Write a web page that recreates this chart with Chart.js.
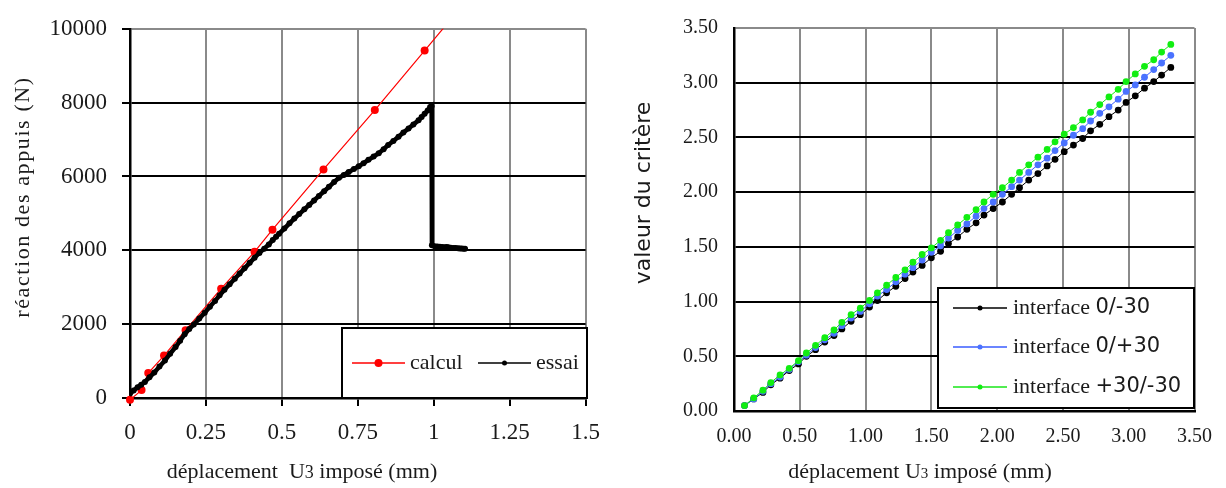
<!DOCTYPE html>
<html>
<head>
<meta charset="utf-8">
<script src="https://cdn.jsdelivr.net/npm/chart.js@4"></script>
<style>
  body { margin: 0; background: #fff; }
  #wrap { position: relative; width: 1226px; height: 488px; }
  canvas { position: absolute; top: 0; }
</style>
</head>
<body>
<div id="wrap">
  <canvas id="chartLeft" width="613" height="488" style="left:0"></canvas>
  <canvas id="chartRight" width="613" height="488" style="left:613px"></canvas>
</div>
<script>
// left chart: reaction des appuis
const leftXTicks = [0, 0.25, 0.5, 0.75, 1, 1.25, 1.5];
const leftYTicks = [0, 2000, 4000, 6000, 8000, 10000];

const calculX = [0, 0.038, 0.06, 0.112, 0.183, 0.30, 0.41, 0.469, 0.637, 0.806, 0.97, 1.14];
const calculY = [-50, 214, 677, 1150, 1836, 2960, 3960, 4560, 6190, 7800, 9410, 11080];

const essaiX = [0, 0.012, 0.025, 0.037, 0.049, 0.064, 0.08, 0.097, 0.115, 0.132, 0.15, 0.165, 0.18, 0.195,
  0.21, 0.228, 0.246, 0.263, 0.28, 0.295, 0.311, 0.328, 0.345, 0.361, 0.377, 0.394, 0.41, 0.426, 0.442,
  0.457, 0.47, 0.481, 0.491, 0.508, 0.525, 0.541, 0.557, 0.574, 0.59, 0.606, 0.622, 0.639, 0.655, 0.672,
  0.688, 0.704, 0.72, 0.737, 0.753, 0.769, 0.785, 0.802, 0.819, 0.835, 0.85, 0.867, 0.884, 0.9, 0.917,
  0.933, 0.95, 0.96, 0.97, 0.98, 0.988, 0.993, 0.994, 1.003, 1.012, 1.02, 1.028, 1.035, 1.042, 1.048,
  1.056, 1.065, 1.072, 1.08, 1.086, 1.092, 1.098, 1.103];
const essaiY = [120, 200, 290, 360, 436, 560, 690, 850, 1016, 1200, 1380, 1550, 1730, 1870,
  1990, 2150, 2308, 2470, 2630, 2780, 2933, 3080, 3230, 3370, 3511, 3660, 3800, 3930, 4045,
  4160, 4280, 4370, 4450, 4590, 4730, 4860, 4981, 5110, 5230, 5350, 5472, 5600, 5720, 5850,
  5963, 6040, 6120, 6200, 6275, 6360, 6450, 6540, 6631, 6740, 6850, 6960, 7077, 7190, 7300,
  7410, 7522, 7610, 7700, 7790, 7880, 7910, 4140, 4110, 4105, 4100, 4090, 4085, 4090, 4080,
  4070, 4065, 4060, 4055, 4050, 4050, 4045, 4045];

// right chart: valeur du critere
const rightXTicks = [0, 0.5, 1, 1.5, 2, 2.5, 3, 3.5];
const rightYTicks = [0, 0.5, 1, 1.5, 2, 2.5, 3, 3.5];

const uImpose = [0.08, 0.15, 0.22, 0.28, 0.35, 0.42, 0.49, 0.55, 0.62, 0.69, 0.76, 0.82, 0.89, 0.96,
  1.03, 1.09, 1.16, 1.23, 1.30, 1.36, 1.43, 1.50, 1.57, 1.63, 1.70, 1.77, 1.84, 1.90, 1.97, 2.04,
  2.11, 2.17, 2.24, 2.31, 2.38, 2.44, 2.51, 2.58, 2.65, 2.71, 2.78, 2.85, 2.92, 2.98, 3.05, 3.12,
  3.19, 3.25, 3.32];
const interface0m30 = [0.05, 0.11, 0.17, 0.24, 0.30, 0.37, 0.43, 0.50, 0.56, 0.63, 0.69, 0.75, 0.82, 0.88,
  0.95, 1.01, 1.08, 1.14, 1.21, 1.27, 1.33, 1.40, 1.46, 1.53, 1.59, 1.66, 1.72, 1.79, 1.85, 1.91,
  1.98, 2.04, 2.11, 2.17, 2.24, 2.30, 2.37, 2.43, 2.49, 2.56, 2.62, 2.69, 2.75, 2.82, 2.88, 2.95,
  3.01, 3.07, 3.14];
const interface0p30 = [0.05, 0.11, 0.18, 0.25, 0.31, 0.38, 0.45, 0.51, 0.58, 0.65, 0.71, 0.78, 0.85, 0.91,
  0.98, 1.05, 1.11, 1.18, 1.25, 1.31, 1.38, 1.45, 1.51, 1.58, 1.65, 1.71, 1.78, 1.85, 1.91, 1.98,
  2.05, 2.11, 2.18, 2.25, 2.31, 2.38, 2.45, 2.52, 2.58, 2.65, 2.72, 2.78, 2.85, 2.92, 2.98, 3.05,
  3.12, 3.18, 3.25];
const interfaceP30m30 = [0.05, 0.12, 0.19, 0.26, 0.33, 0.39, 0.46, 0.53, 0.60, 0.67, 0.74, 0.81, 0.88, 0.94,
  1.01, 1.08, 1.15, 1.22, 1.29, 1.36, 1.43, 1.49, 1.56, 1.63, 1.70, 1.77, 1.84, 1.91, 1.98, 2.04,
  2.11, 2.18, 2.25, 2.32, 2.39, 2.46, 2.53, 2.59, 2.66, 2.73, 2.80, 2.87, 2.94, 3.01, 3.08, 3.15,
  3.21, 3.28, 3.35];

const SERIF = "'Liberation Serif', 'Times New Roman', serif";
const SANS = "'DejaVu Sans', 'Liberation Sans', sans-serif";
const TEXT = '#1a1a1a';
const GRAY = '#8a8a8a';

function toPts(xs, ys) {
  return xs.map((x, i) => ({ x: x, y: ys[i] }));
}

// draws axis titles (with small "3") and the boxed legend
const frameText = {
  id: 'frameText',
  afterDraw(chart, args, opts) {
    const ctx = chart.ctx;
    ctx.save();
    ctx.fillStyle = TEXT;

    function drawParts(parts, cx, cy) {
      let total = 0;
      parts.forEach(p => { ctx.font = p.font; total += ctx.measureText(p.text).width; });
      let x = cx - total / 2;
      parts.forEach(p => {
        ctx.font = p.font;
        ctx.fillText(p.text, x, cy);
        x += ctx.measureText(p.text).width;
      });
    }

    ctx.textAlign = 'left';
    ctx.textBaseline = 'alphabetic';
    drawParts(opts.xTitle.parts, opts.xTitle.x, opts.xTitle.y);

    ctx.save();
    ctx.translate(opts.yTitle.x, opts.yTitle.y);
    ctx.rotate(-Math.PI / 2);
    ctx.textBaseline = 'middle';
    if (opts.yTitle.spacing) ctx.letterSpacing = opts.yTitle.spacing;
    drawParts(opts.yTitle.parts, 0, 0);
    ctx.restore();

    // legend box
    const lg = opts.legend;
    ctx.fillStyle = '#fff';
    ctx.fillRect(lg.x, lg.y, lg.w, lg.h);
    ctx.strokeStyle = '#000';
    ctx.lineWidth = 2;
    ctx.strokeRect(lg.x, lg.y, lg.w, lg.h);

    chart.data.datasets.forEach((ds, i) => {
      const it = lg.items[i];
      ctx.strokeStyle = ds.borderColor;
      ctx.lineWidth = 1.5;
      ctx.beginPath();
      ctx.moveTo(it.x, it.y);
      ctx.lineTo(it.x + lg.lineLen, it.y);
      ctx.stroke();
      ctx.fillStyle = ds.backgroundColor;
      ctx.beginPath();
      ctx.arc(it.x + lg.lineLen / 2, it.y, lg.dots[i], 0, Math.PI * 2);
      ctx.fill();
      ctx.fillStyle = TEXT;
      ctx.textBaseline = 'middle';
      const words = ds.label.split(' ');
      let tx = it.x + lg.lineLen + lg.gap;
      words.forEach((w, k) => {
        ctx.font = (k === 0 ? lg.font : (lg.font2 || lg.font));
        const t = (k < words.length - 1) ? w + ' ' : w;
        ctx.fillText(t, tx, it.y);
        tx += ctx.measureText(t).width;
      });
    });
    ctx.restore();
  }
};

function fixedTicks(list) {
  return scale => { scale.ticks = list.map(v => ({ value: v })); };
}

// Left chart
new Chart(document.getElementById('chartLeft'), {
  type: 'scatter',
  plugins: [frameText],
  data: {
    datasets: [
      {
        label: 'calcul',
        data: toPts(calculX, calculY),
        showLine: true,
        borderColor: '#ff0000',
        backgroundColor: '#ff0000',
        borderWidth: 1.2,
        pointRadius: 4,
        pointBorderWidth: 0,
        order: 1,
        clip: { left: 6, top: 0, right: 0, bottom: 6 }
      },
      {
        label: 'essai',
        data: toPts(essaiX, essaiY),
        showLine: true,
        borderColor: '#000',
        backgroundColor: '#000',
        borderWidth: 4.5,
        pointRadius: 3,
        pointBorderWidth: 0,
        order: 0
      }
    ]
  },
  options: {
    responsive: false,
    animation: false,
    layout: { padding: { top: 24, right: 25, bottom: 0, left: 0 } },
    plugins: {
      legend: { display: false },
      tooltip: { enabled: false },
      frameText: {
        xTitle: {
          x: 302, y: 478,
          parts: [
            { text: 'déplacement  U', font: '22px ' + SERIF },
            { text: '3', font: '18px ' + SERIF },
            { text: ' imposé (mm)', font: '22px ' + SERIF }
          ]
        },
        yTitle: {
          x: 23, y: 197, spacing: '1.6px',
          parts: [{ text: 'réaction des appuis (N)', font: '22px ' + SERIF }]
        },
        legend: {
          x: 342, y: 328, w: 245, h: 70, lineLen: 53, gap: 5,
          font: '22px ' + SERIF,
          dots: [4, 2.5],
          items: [{ x: 352, y: 363 }, { x: 478, y: 363 }]
        }
      }
    },
    scales: {
      x: {
        type: 'linear',
        min: 0,
        max: 1.5,
        afterBuildTicks: fixedTicks(leftXTicks),
        afterFit: s => { s.height = 90; },
        ticks: {
          callback: v => String(v),
          color: TEXT,
          font: { family: SERIF, size: 23 },
          padding: 13
        },
        grid: { color: GRAY, lineWidth: 2, tickLength: 8, tickColor: '#000', tickWidth: 2 },
        border: { color: '#000', width: 2.5 }
      },
      y: {
        type: 'linear',
        min: 0,
        max: 10000,
        afterBuildTicks: fixedTicks(leftYTicks),
        afterFit: s => { s.width = 130; },
        ticks: {
          callback: v => String(v),
          color: TEXT,
          font: { family: SERIF, size: 23 },
          padding: 15
        },
        grid: {
          color: c => (c.tick && c.tick.value === 10000) ? GRAY : '#000',
          lineWidth: 2,
          tickLength: 8,
          tickColor: '#000',
          tickWidth: 2
        },
        border: { color: '#000', width: 2.5 }
      }
    }
  }
});

// Right chart
new Chart(document.getElementById('chartRight'), {
  type: 'scatter',
  plugins: [frameText],
  data: {
    datasets: [
      {
        label: 'interface 0/-30',
        data: toPts(uImpose, interface0m30),
        showLine: true,
        borderColor: '#000',
        backgroundColor: '#000',
        borderWidth: 1,
        pointRadius: 3.4,
        pointBorderWidth: 0,
        order: 2
      },
      {
        label: 'interface 0/+30',
        data: toPts(uImpose, interface0p30),
        showLine: true,
        borderColor: '#3a5cff',
        backgroundColor: '#4a72ff',
        borderWidth: 1,
        pointRadius: 3.4,
        pointBorderWidth: 0,
        order: 1
      },
      {
        label: 'interface +30/-30',
        data: toPts(uImpose, interfaceP30m30),
        showLine: true,
        borderColor: '#19e619',
        backgroundColor: '#11ee11',
        borderWidth: 1,
        pointRadius: 3.4,
        pointBorderWidth: 0,
        order: 0
      }
    ]
  },
  options: {
    responsive: false,
    animation: false,
    layout: { padding: { top: 20, right: 31, bottom: 0, left: 0 } },
    plugins: {
      legend: { display: false },
      tooltip: { enabled: false },
      frameText: {
        xTitle: {
          x: 307, y: 478,
          parts: [
            { text: 'déplacement U', font: '22px ' + SERIF },
            { text: '3', font: '15px ' + SERIF },
            { text: ' imposé (mm)', font: '22px ' + SERIF }
          ]
        },
        yTitle: {
          x: 31, y: 193,
          parts: [{ text: 'valeur du critère', font: '22px ' + SANS }]
        },
        legend: {
          x: 325, y: 288, w: 256, h: 120, lineLen: 54, gap: 6,
          font: '22px ' + SERIF,
          font2: '21px ' + SANS,
          dots: [2.5, 2.5, 2.5],
          items: [{ x: 340, y: 308 }, { x: 340, y: 347 }, { x: 340, y: 387 }]
        }
      }
    },
    scales: {
      x: {
        type: 'linear',
        min: 0,
        max: 3.5,
        afterBuildTicks: fixedTicks(rightXTicks),
        afterFit: s => { s.height = 77; },
        ticks: {
          callback: v => v.toFixed(2),
          color: TEXT,
          font: { family: SERIF, size: 20 },
          padding: 14
        },
        grid: { color: GRAY, lineWidth: 2, drawTicks: false },
        border: { color: '#000', width: 2.5 }
      },
      y: {
        type: 'linear',
        min: 0,
        max: 3.5,
        afterBuildTicks: fixedTicks(rightYTicks),
        afterFit: s => { s.width = 121; },
        ticks: {
          callback: v => v.toFixed(2),
          color: TEXT,
          font: { family: SERIF, size: 20 },
          padding: 16
        },
        grid: {
          color: c => (c.tick && c.tick.value === 3.5) ? GRAY : '#000',
          lineWidth: 2,
          drawTicks: false
        },
        border: { color: '#000', width: 2.5 }
      }
    }
  }
});
</script>
</body>
</html>
